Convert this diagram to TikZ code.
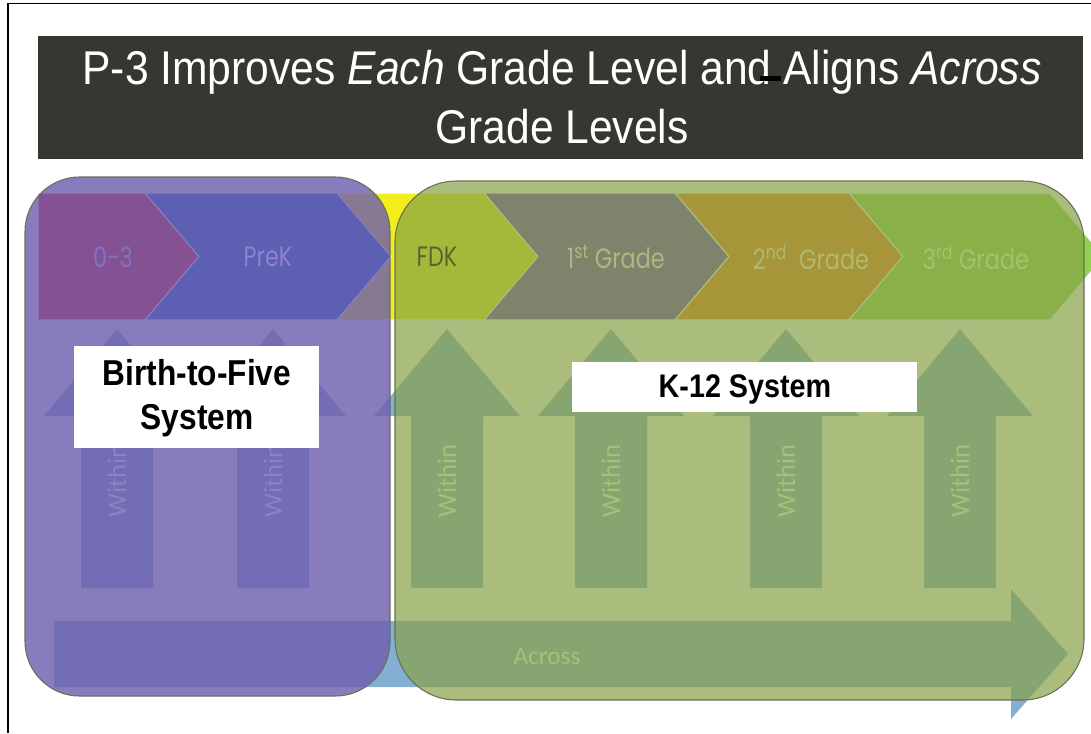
\documentclass[tikz,border=0pt]{standalone}
\usepackage{fontspec}
\newfontfamily\titlefont[FakeStretch=0.9]{Liberation Sans}
\newfontfamily\labelfont[FakeStretch=0.88]{Liberation Sans}
\newfontfamily\chevfont[FakeStretch=0.8]{Poppins}
\newfontfamily\calfont{Carlito}
\definecolor{titlebg}{RGB}{53,56,48}
\definecolor{cred}{RGB}{232,32,36}
\definecolor{cblue}{RGB}{20,100,200}
\definecolor{cyellow}{RGB}{242,238,26}
\definecolor{cviolet}{RGB}{112,60,193}
\definecolor{corange}{RGB}{245,123,27}
\definecolor{cgreen}{RGB}{145,210,80}
\definecolor{arrowc}{RGB}{132,174,211}
\definecolor{ovpurple}{RGB}{110,94,173}
\definecolor{ovgreen}{RGB}{135,162,71}
\definecolor{boxline}{RGB}{105,112,88}
\definecolor{t03}{RGB}{127,115,196}
\definecolor{tprek}{RGB}{140,130,208}
\definecolor{tfdk}{RGB}{90,100,48}
\definecolor{tfirst}{RGB}{170,185,125}
\definecolor{tsecond}{RGB}{175,185,110}
\definecolor{tthird}{RGB}{160,195,110}
\definecolor{wpurple}{RGB}{142,128,194}
\definecolor{wgreen}{RGB}{170,190,122}
\tikzset{
  chev/.style={draw=white, line width=0.8pt},
  uparrow/.style={fill=arrowc},
  sysbox/.style={rounded corners=#1, fill opacity=0.81, draw=boxline, line width=0.8pt},
  chevtext/.style={font=\chevfont\fontsize{21}{24}\selectfont, inner sep=0pt},
  within/.style={font=\calfont\fontsize{20}{22}\selectfont, rotate=90, inner sep=0pt},
  syslabel/.style={font=\labelfont\bfseries, text=black, align=center, inner sep=0pt}
}
\begin{document}
\begin{tikzpicture}[x=0.75pt,y=-0.75pt]
\useasboundingbox (0,0) rectangle (1091,733);
\clip (0,0) rectangle (1091,733);
\fill[white] (0,0) rectangle (1091,733);

% title bar
\fill[titlebg] (38,36) rectangle (1083,159);
\node[font=\titlefont\fontsize{35.5}{44}\selectfont, text=white, align=center, inner sep=0pt] (title) at (562,97)
  {P-3 Improves \textit{Each} Grade Level and Aligns \textit{Across}\\Grade Levels};
\fill[black] (760,76) rectangle (781,81);

% chevrons
\filldraw[chev, fill=cred] (38,193) -- (145,193) -- (199,256.5) -- (145,320) -- (38,320) -- cycle;
\filldraw[chev, fill=cblue] (145,193) -- (337,193) -- (391,256.5) -- (337,320) -- (145,320) -- (199,256.5) -- cycle;
\filldraw[chev, fill=cyellow] (337,193) -- (484,193) -- (538,256.5) -- (484,320) -- (337,320) -- (391,256.5) -- cycle;
\filldraw[chev, fill=cviolet] (484,193) -- (675,193) -- (729,256.5) -- (675,320) -- (484,320) -- (538,256.5) -- cycle;
\filldraw[chev, fill=corange] (675,193) -- (849,193) -- (903,256.5) -- (849,320) -- (675,320) -- (729,256.5) -- cycle;
\filldraw[chev, fill=cgreen] (849,193) -- (1050,193) -- (1104,256.5) -- (1050,320) -- (849,320) -- (903,256.5) -- cycle;

% up arrows
\foreach \c in {117,273,447,611,786,960}{
  \fill[uparrow] (\c-36,588) -- (\c-36,416) -- (\c-73,416) -- (\c,329) -- (\c+73,416) -- (\c+36,416) -- (\c+36,588) -- cycle;
}
% across arrow
\fill[uparrow] (54,621) -- (1011,621) -- (1011,589) -- (1068,654) -- (1011,719) -- (1011,687) -- (54,687) -- cycle;

% system overlays
\filldraw[sysbox=41pt, fill=ovpurple] (25,177) rectangle (390,696);
\filldraw[sysbox=46pt, fill=ovgreen, fill opacity=0.70] (395,181) rectangle (1084,700);

% chevron labels
\node[chevtext, text=t03] (l03) at (113,257) {0-3};
\node[chevtext, text=tprek] (lprek) at (268,257) {PreK};
\node[chevtext, text=tfdk] (lfdk) at (437,257) {FDK};
\node[chevtext, text=tfirst] (l1) at (616,257) {1\textsuperscript{st} Grade};
\node[chevtext, text=tsecond] (l2) at (811,257) {2\textsuperscript{nd}\ \ Grade};
\node[chevtext, text=tthird] (l3) at (976,257) {3\textsuperscript{rd} Grade};

% within labels
\node[within, text=wpurple] (w1) at (117,481) {Within};
\node[within, text=wpurple] (w2) at (273,481) {Within};
\node[within, text=wgreen] (w3) at (447,481) {Within};
\node[within, text=wgreen] (w4) at (611,481) {Within};
\node[within, text=wgreen] (w5) at (786,481) {Within};
\node[within, text=wgreen] (w6) at (960,481) {Within};
\node[font=\calfont\fontsize{19}{22}\selectfont, text=wgreen, inner sep=0pt] (across) at (547,656) {Across};

% system labels
\fill[white] (74,346) rectangle (319,448);
\node[syslabel, font=\labelfont\bfseries\fontsize{27}{33}\selectfont] (b5) at (197,398) {Birth-to-Five\\System};
\fill[white] (572,362) rectangle (917,412);
\node[syslabel, font=\labelfont\bfseries\fontsize{24.5}{28}\selectfont] (k12) at (745,389) {K-12 System};

% frame
\draw[line width=1.4pt, black] (8,733) -- (8,3.5) -- (1091,3.5);
\end{tikzpicture}
\end{document}
